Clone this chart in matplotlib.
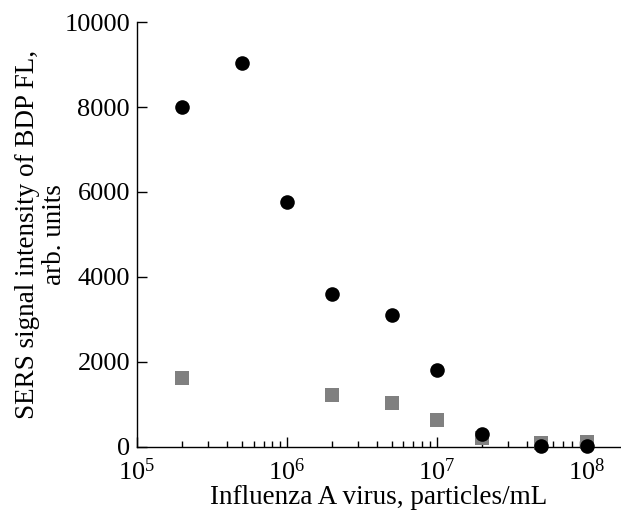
"""
SERS signal vs influenza A virus concentration
"""

import matplotlib
matplotlib.use('Agg')
import matplotlib.pyplot as plt
import numpy as np
from matplotlib.ticker import LogLocator, NullFormatter

plt.rcParams['font.family'] = ['Liberation Serif', 'DejaVu Serif']
plt.rcParams['mathtext.fontset'] = 'custom'
plt.rcParams['mathtext.rm'] = 'Liberation Serif'
plt.rcParams['mathtext.it'] = 'Liberation Serif:italic'

# virus concentration, particles/mL
conc_circles = [2e5, 5e5, 1e6, 2e6, 5e6, 1e7, 2e7, 5e7, 1e8]
sers_circles = [8000, 9040, 5770, 3600, 3110, 1810, 300, 20, 20]

conc_squares = [2e5, 2e6, 5e6, 1e7, 2e7, 5e7, 1e8]
sers_squares = [1620, 1220, 1035, 630, 210, 100, 120]

y_ticks = [0, 2000, 4000, 6000, 8000, 10000]

fig = plt.figure(figsize=(6.21, 5.13), dpi=100)
ax = fig.add_axes([0.2206, 0.1287, 0.777, 0.8284])

ax.plot(conc_squares, sers_squares, 's', color='#808080', markersize=9.5,
        markeredgewidth=0, clip_on=False, zorder=3)
ax.plot(conc_circles, sers_circles, 'o', color='black', markersize=10.5,
        markeredgewidth=0, clip_on=False, zorder=4)

ax.set_xscale('log')
ax.set_xlim(1e5, 1.66e8)
ax.set_ylim(0, 10000)
ax.set_yticks(y_ticks)
ax.xaxis.set_major_locator(LogLocator(base=10, numticks=10))
ax.xaxis.set_minor_locator(LogLocator(base=10, subs=np.arange(2, 10), numticks=10))
ax.xaxis.set_minor_formatter(NullFormatter())

ax.spines['top'].set_visible(False)
ax.spines['right'].set_visible(False)
for sp in ['left', 'bottom']:
    ax.spines[sp].set_linewidth(1.0)

ax.tick_params(which='major', direction='in', length=7, width=1.0, labelsize=19)
ax.tick_params(axis='x', which='major', pad=8)
ax.tick_params(axis='y', which='major', pad=5)
ax.tick_params(which='minor', direction='in', length=4, width=1.0)

ax.set_xlabel('Influenza A virus, particles/mL', fontsize=19.5, labelpad=0)
ax.set_ylabel('SERS signal intensity of BDP FL,\narb. units', fontsize=19.5,
              linespacing=1.1, labelpad=-2)

fig.savefig('out.png', dpi=100)
